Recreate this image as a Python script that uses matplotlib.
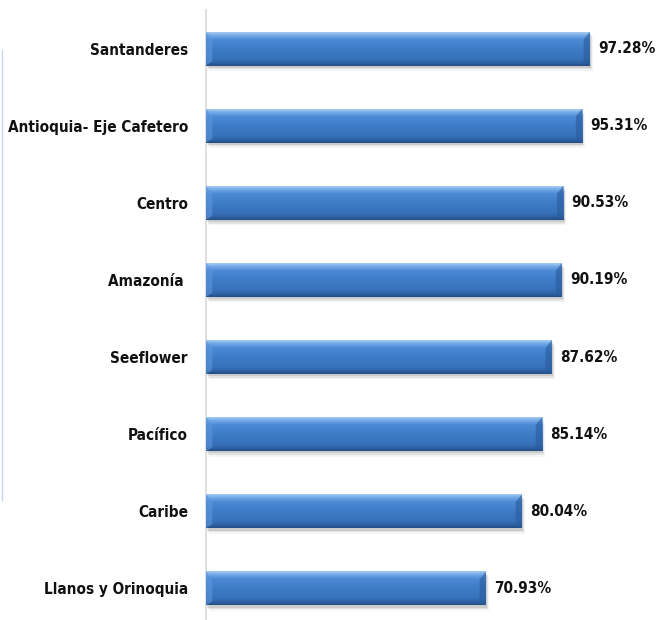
import numpy as np
import matplotlib
matplotlib.use("Agg")
import matplotlib.pyplot as plt
from matplotlib.colors import LinearSegmentedColormap

categories = ["Santanderes", "Antioquia- Eje Cafetero", "Centro", "Amazonía ",
              "Seeflower", "Pacífico", "Caribe", "Llanos y Orinoquia"]
values = [97.28, 95.31, 90.53, 90.19, 87.62, 85.14, 80.04, 70.93]
value_labels = ["97.28%", "95.31%", "90.53%", "90.19%", "87.62%", "85.14%", "80.04%", "70.93%"]

plt.rcParams['font.family'] = ['DejaVu Sans']
plt.rcParams['font.stretch'] = 'condensed'

W, H = 660, 620
fig = plt.figure(figsize=(W/100, H/100), dpi=100)
ax = fig.add_axes([206/W, 0, (W-206)/W, 610/H])
ax.set_xlim(0, (W-206)/3.947)
ax.set_ylim(7.41, -0.5)

y = np.arange(len(categories))
bh = 0.44
bars = ax.barh(y, values, height=bh, color="#3b78c2", zorder=3)

cmap = LinearSegmentedColormap.from_list("bev", [
    (0.0, "#a4cbf4"), (0.08, "#78ade8"), (0.22, "#4c8ad6"),
    (0.5, "#3e7cc8"), (0.82, "#3670b8"), (0.93, "#2c5e9e"), (1.0, "#244f86")])
grad = np.linspace(0, 1, 64).reshape(-1, 1)

for b in bars:
    x0, y0 = b.get_x(), b.get_y()
    w, h = b.get_width(), b.get_height()
    for k, a in enumerate([0.10, 0.07, 0.04]):
        ax.add_patch(plt.Rectangle((x0 + 0.3 + 0.25*k, y0 + 0.03 + 0.02*k), w, h,
                                   color="black", alpha=a, lw=0, zorder=1))
    ax.imshow(grad, extent=(x0, x0 + w, y0 + h, y0), aspect="auto", cmap=cmap,
              zorder=4, interpolation="bilinear")
    bw = 1.6
    ax.add_patch(plt.Polygon([(x0, y0), (x0 + bw, y0 + 0.1), (x0 + bw, y0 + h - 0.05), (x0, y0 + h)],
                             color="#5b96dc", alpha=0.6, lw=0, zorder=5))
    ax.add_patch(plt.Polygon([(x0 + w, y0), (x0 + w - bw, y0 + 0.1), (x0 + w - bw, y0 + h - 0.05), (x0 + w, y0 + h)],
                             color="#2a5c9c", alpha=0.6, lw=0, zorder=5))

for yi, v, lab in zip(y, values, value_labels):
    ax.text(v + 2.0, yi, lab, va="center", ha="left", fontsize=11,
            fontweight="bold", fontstretch="condensed", color="#111111", zorder=6)

ax.set_yticks(y)
ax.set_yticklabels(categories, fontsize=11, fontweight="bold", fontstretch="condensed", color="#111111")
ax.tick_params(axis="y", length=0, pad=13)
ax.set_xticks([])
for s in ["top", "right", "bottom"]:
    ax.spines[s].set_visible(False)
ax.spines["left"].set_color("#d9d9d9")
ax.spines["left"].set_linewidth(1.2)

fig.add_artist(plt.Line2D([1.5/W, 1.5/W], [1 - 50/H, 1 - 500/H], color="#c5d6ee", lw=1))

fig.savefig("out.png", dpi=100, facecolor="white")
